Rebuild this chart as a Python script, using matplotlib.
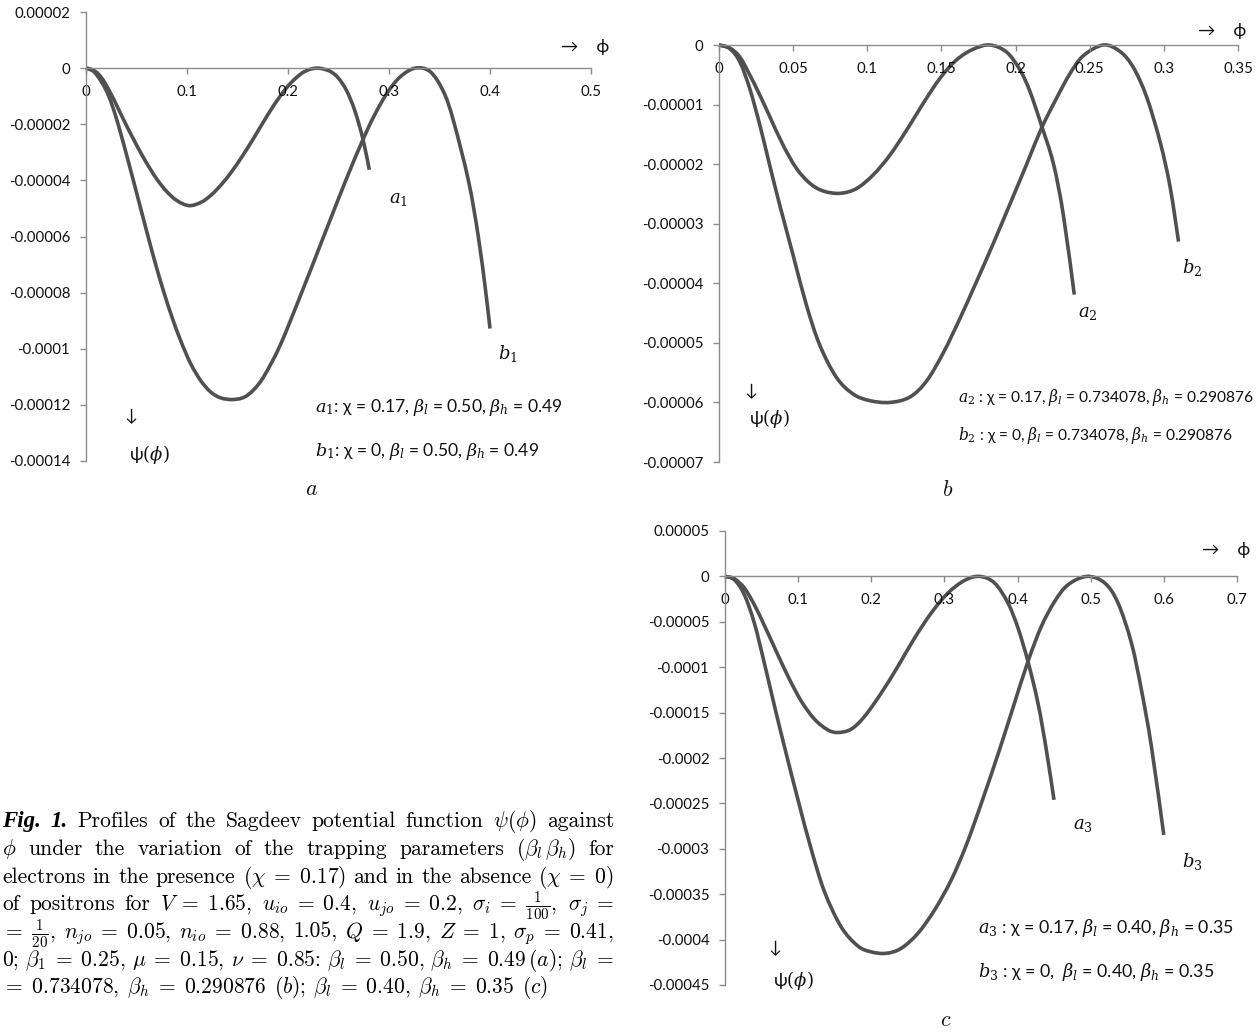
#!/usr/bin/env python3
"""
Sagdeev potential profiles psi(phi), three parameter sets (a, b, c).
Values read off the original figure; psi in units of 1e-5.
"""

import numpy as np
import matplotlib
matplotlib.use('Agg')
import matplotlib.pyplot as plt
from matplotlib.path import Path
from matplotlib.patches import PathPatch

W, H = 1258, 1032
LINE = '#505050'
AXIS = '#8c8c8c'

plt.rcParams['font.family'] = ['Lato', 'DejaVu Sans']
plt.rcParams['mathtext.fontset'] = 'dejavuserif'

# ---- panel a ----
a1_phi = [0, 0.006, 0.012, 0.018, 0.025, 0.032, 0.039, 0.047, 0.055, 0.063,
          0.071, 0.080, 0.090, 0.102, 0.114, 0.124, 0.134, 0.144, 0.154,
          0.166, 0.180, 0.193, 0.203, 0.213, 0.221, 0.229, 0.236, 0.243,
          0.250, 0.258, 0.266, 0.274, 0.2805]
a1_psi = [0, -0.05, -0.20, -0.48, -0.94, -1.45, -1.97, -2.53, -3.07, -3.56,
          -4.00, -4.40, -4.72, -4.90, -4.78, -4.52, -4.15, -3.70, -3.18,
          -2.50, -1.66, -0.96, -0.52, -0.20, -0.05, 0.0, -0.04, -0.14,
          -0.36, -0.80, -1.50, -2.50, -3.62]
b1_phi = [0, 0.0079, 0.0162, 0.0228, 0.0294, 0.0360, 0.0426, 0.0492, 0.0558,
          0.0624, 0.0690, 0.0772, 0.0855, 0.0937, 0.1036, 0.1135, 0.1234,
          0.1333, 0.1449, 0.1564, 0.1663, 0.1762, 0.1922, 0.2134, 0.2352,
          0.2570, 0.2732, 0.2847, 0.2979, 0.3111, 0.3260, 0.3409, 0.3541,
          0.3640, 0.3789, 0.3884, 0.3957, 0.4000]
b1_psi = [0, -0.13, -0.54, -1.02, -1.71, -2.54, -3.42, -4.32, -5.23, -6.13,
          -7.00, -8.00, -8.91, -9.71, -10.53, -11.13, -11.54, -11.75, -11.81,
          -11.73, -11.45, -10.98, -9.88, -8.01, -6.01, -4.02, -2.63, -1.74,
          -0.90, -0.31, 0.0, -0.13, -0.85, -1.90, -4.05, -6.00, -7.95, -9.28]
a_xticks = [0, 0.1, 0.2, 0.3, 0.4, 0.5]
a_xlabels = ['0', '0.1', '0.2', '0.3', '0.4', '0.5']
a_yticks = [2, 0, -2, -4, -6, -8, -10, -12, -14]
a_ylabels = ['0.00002', '0', '-0.00002', '-0.00004', '-0.00006', '-0.00008',
             '-0.0001', '-0.00012', '-0.00014']

# ---- panel b ----
a2_phi = [0, 0.0072, 0.0140, 0.0207, 0.0275, 0.0342, 0.0432, 0.0522, 0.0612,
          0.0702, 0.0815, 0.0927, 0.1040, 0.1152, 0.1265, 0.1377, 0.1490,
          0.1602, 0.1715, 0.1827, 0.1940, 0.2030, 0.2097, 0.2176, 0.2255,
          0.2322, 0.2396]
a2_psi = [0, -0.05, -0.20, -0.50, -0.84, -1.20, -1.68, -2.07, -2.32, -2.45,
          -2.49, -2.41, -2.18, -1.85, -1.43, -0.98, -0.56, -0.25, -0.07, 0.0,
          -0.12, -0.42, -0.78, -1.36, -1.99, -2.85, -4.19]
b2_phi = [0, 0.0072, 0.0140, 0.0207, 0.0275, 0.0342, 0.0410, 0.0500, 0.0590,
          0.0680, 0.0792, 0.0905, 0.1017, 0.1152, 0.1287, 0.1400, 0.1512,
          0.1625, 0.1737, 0.1850, 0.1962, 0.2075, 0.2176, 0.2277, 0.2367,
          0.2457, 0.2592, 0.2705, 0.2795, 0.2885, 0.2975, 0.3042, 0.3099]
b2_psi = [0, -0.06, -0.28, -0.73, -1.34, -2.02, -2.69, -3.53, -4.37, -5.04,
          -5.58, -5.86, -5.97, -6.00, -5.91, -5.64, -5.17, -4.59, -3.97, -3.33,
          -2.67, -2.00, -1.39, -0.89, -0.48, -0.18, 0.0, -0.11, -0.38, -0.88,
          -1.63, -2.38, -3.30]
b_xticks = [0, 0.05, 0.1, 0.15, 0.2, 0.25, 0.3, 0.35]
b_xlabels = ['0', '0.05', '0.1', '0.15', '0.2', '0.25', '0.3', '0.35']
b_yticks = [0, -1, -2, -3, -4, -5, -6, -7]
b_ylabels = ['0', '-0.00001', '-0.00002', '-0.00003', '-0.00004', '-0.00005',
             '-0.00006', '-0.00007']

# ---- panel c ----
a3_phi = [0, 0.0128, 0.0265, 0.0401, 0.0538, 0.0675, 0.0858, 0.1040, 0.1223,
          0.1405, 0.1542, 0.1724, 0.1907, 0.2135, 0.2363, 0.2591, 0.2819,
          0.3047, 0.3276, 0.3481, 0.3686, 0.3869, 0.4006, 0.4142, 0.4279,
          0.4393, 0.4498]
a3_psi = [0, -0.26, -1.29, -3.12, -5.40, -7.80, -10.95, -13.70, -15.72,
          -16.90, -17.19, -16.83, -15.43, -12.86, -9.92, -6.80, -4.04, -1.84,
          -0.44, 0.0, -0.73, -2.94, -5.69, -9.37, -13.96, -19.10, -24.61]
b3_phi = [0, 0.0128, 0.0265, 0.0401, 0.0538, 0.0698, 0.0858, 0.1017, 0.1177,
          0.1359, 0.1588, 0.1816, 0.1998, 0.2203, 0.2409, 0.2637, 0.2865,
          0.3093, 0.3298, 0.3504, 0.3732, 0.3914, 0.4142, 0.4325, 0.4507,
          0.4690, 0.4950, 0.5192, 0.5374, 0.5557, 0.5693, 0.5830, 0.5999]
b3_psi = [0, -0.37, -2.02, -5.14, -9.55, -15.00, -20.20, -25.20, -30.00,
          -34.70, -38.60, -40.70, -41.35, -41.51, -40.96, -39.31, -36.74,
          -33.43, -29.60, -25.00, -19.60, -15.06, -9.37, -5.51, -2.76, -0.92,
          0.0, -0.73, -2.94, -7.35, -12.49, -18.74, -28.47]
c_xticks = [0, 0.1, 0.2, 0.3, 0.4, 0.5, 0.6, 0.7]
c_xlabels = ['0', '0.1', '0.2', '0.3', '0.4', '0.5', '0.6', '0.7']
c_yticks = [5, 0, -5, -10, -15, -20, -25, -30, -35, -40, -45]
c_ylabels = ['0.00005', '0', '-0.00005', '-0.0001', '-0.00015', '-0.0002',
             '-0.00025', '-0.0003', '-0.00035', '-0.0004', '-0.00045']

# caption; words are split on plain spaces, so math pieces carry no spaces
E = r'\;=\;'
caption_lines = [
    r"Profiles of the Sagdeev potential function $\psi(\phi)$ against",
    r"$\phi$ under the variation of the trapping parameters "
    r"$(\beta_l\,\beta_h)$ for",
    r"electrons in the presence $(\chi" + E + r"0.17)$ and in the absence "
    r"$(\chi" + E + r"0)$",
    r"of positrons for $V" + E + r"1.65$, $u_{io}" + E + r"0.4$, $u_{jo}" + E
    + r"0.2$, $\sigma_i" + E + r"\frac{1}{100}$, $\sigma_j\;=$",
    r"$=\;\frac{1}{20}$, $n_{jo}" + E + r"0.05$, $n_{io}" + E + r"0.88$, "
    r"1.05, $Q" + E + r"1.9$, $Z" + E + r"1$, $\sigma_p" + E + r"0.41$,",
    r"0; $\beta_1" + E + r"0.25$, $\mu" + E + r"0.15$, $\nu" + E + r"0.85$: "
    r"$\beta_l" + E + r"0.50$, $\beta_h" + E + r"0.49\,(a)$; $\beta_l\;=$",
    r"$=\;0.734078$, $\beta_h" + E + r"0.290876$ $(b)$; $\beta_l" + E
    + r"0.40$, $\beta_h" + E + r"0.35$ $(c)$",
]
caption_base = [827, 855, 883, 910, 938, 966, 993]


def px(x, y):
    return x / W, 1 - y / H


def make_axes(fig, left, top, right, bottom):
    return fig.add_axes([left / W, 1 - bottom / H,
                         (right - left) / W, (bottom - top) / H])


def style_axes(ax, xticks, xlabels, yticks, ylabels, xmax, ymin, ymax):
    ax.set_facecolor('none')
    ax.set_xlim(0, xmax)
    ax.set_ylim(ymin, ymax)
    for s in ['top', 'right']:
        ax.spines[s].set_visible(False)
    ax.spines['bottom'].set_position(('data', 0))
    for s in ['left', 'bottom']:
        ax.spines[s].set_color(AXIS)
        ax.spines[s].set_linewidth(1.0)
    ax.set_xticks(xticks, xlabels)
    ax.set_yticks(yticks, ylabels)
    ax.tick_params(axis='both', direction='out', color=AXIS, length=4.3,
                   width=1.0, labelsize=10.8, labelcolor='#111111')
    ax.tick_params(axis='y', pad=7)
    ax.tick_params(axis='x', pad=8)


def smooth_path(x, y):
    """Smoothed line through the points (Catmull-Rom as cubic Beziers)."""
    pts = np.column_stack([x, y]).astype(float)
    n = len(pts)
    verts = [pts[0]]
    codes = [Path.MOVETO]
    for i in range(n - 1):
        p0 = pts[i - 1] if i > 0 else pts[i]
        p1, p2 = pts[i], pts[i + 1]
        p3 = pts[i + 2] if i + 2 < n else pts[i + 1]
        verts += [p1 + (p2 - p0) / 6, p2 - (p3 - p1) / 6, p2]
        codes += [Path.CURVE4] * 3
    return Path(verts, codes)


def draw_curves(ax, curves):
    for phi, psi in curves:
        ax.add_patch(PathPatch(smooth_path(phi, psi), facecolor='none',
                               edgecolor=LINE, lw=2.6, capstyle='butt',
                               clip_on=False))


def label(fig, x, y, s, size=12, **kw):
    fig.text(*px(x, y), s, ha='center', va='center', fontsize=size,
             color='#111111', **kw)


fig = plt.figure(figsize=(W / 100, H / 100), dpi=100)

# panel a
ax = make_axes(fig, 86, 12, 591, 461)
style_axes(ax, a_xticks, a_xlabels, a_yticks, a_ylabels, 0.5, -14, 2)
draw_curves(ax, [(a1_phi, a1_psi), (b1_phi, b1_psi)])

# panel b
ax = make_axes(fig, 719, 45, 1238, 462)
style_axes(ax, b_xticks, b_xlabels, b_yticks, b_ylabels, 0.35, -7, 0)
draw_curves(ax, [(a2_phi, a2_psi), (b2_phi, b2_psi)])

# panel c
ax = make_axes(fig, 725, 531, 1237, 985)
style_axes(ax, c_xticks, c_xlabels, c_yticks, c_ylabels, 0.7, -45, 5)
draw_curves(ax, [(a3_phi, a3_psi), (b3_phi, b3_psi)])

# axis symbols and curve names
for (ax_x, ax_y, dn_x, dn_y, ps_y) in [(585, 47, 131, 416, 454),
                                       (1222, 31, 751, 391, 418),
                                       (1226, 550, 775, 948, 980)]:
    label(fig, ax_x, ax_y, '→    ϕ', size=12.5)
    label(fig, dn_x, dn_y, '↓', size=12.5)
    label(fig, dn_x + 18, ps_y, r'ψ$(\phi)$', size=13)

for x, y, s in [(398, 199, r'$a_1$'), (508, 354, r'$b_1$'),
                (1088, 313, r'$a_2$'), (1192, 267, r'$b_2$'),
                (1083, 825, r'$a_3$'), (1192, 862, r'$b_3$')]:
    label(fig, x, y, s, size=13)

notes = [
    (315, 408, 12.6, r'$a_1$: χ = 0.17, $\beta_l$ = 0.50, $\beta_h$ = 0.49'),
    (315, 452, 12.6, r'$b_1$: χ = 0, $\beta_l$ = 0.50, $\beta_h$ = 0.49'),
    (958, 397, 11.2,
     r'$a_2$ : χ = 0.17, $\beta_l$ = 0.734078, $\beta_h$ = 0.290876'),
    (958, 436, 11.2,
     r'$b_2$ : χ = 0, $\beta_l$ = 0.734078, $\beta_h$ = 0.290876'),
    (978, 928, 12.8, r'$a_3$ : χ = 0.17, $\beta_l$ = 0.40, $\beta_h$ = 0.35'),
    (978, 972, 12.8, r'$b_3$ : χ = 0,  $\beta_l$ = 0.40, $\beta_h$ = 0.35'),
]
for x, y, size, s in notes:
    fig.text(*px(x, y), s, ha='left', va='center', fontsize=size,
             color='#111111')

for x, y, s in [(312, 489, r'$a$'), (948, 490, r'$b$'), (946, 1020, r'$c$')]:
    label(fig, x, y, s, size=16, math_fontfamily='cm')

# caption, justified word by word
renderer = fig.canvas.get_renderer()
cap_kw = dict(fontfamily='cmr10', math_fontfamily='cm', fontsize=15.5,
              color='black', va='baseline', ha='left')
x_left, x_right = 2, 614
for i, (line, yb) in enumerate(zip(caption_lines, caption_base)):
    arts = []
    if i == 0:
        for w in ['Fig.', '1.']:
            arts.append(fig.text(0, 1 - yb / H, w, fontfamily='Liberation Serif',
                                 fontweight='bold', fontstyle='italic',
                                 fontsize=16.5, color='black', va='baseline',
                                 ha='left'))
    for w in line.split(' '):
        arts.append(fig.text(0, 1 - yb / H, w, **cap_kw))
    widths = [a.get_window_extent(renderer).width for a in arts]
    if i < len(caption_lines) - 1:
        gap = (x_right - x_left - sum(widths)) / (len(arts) - 1)
    else:
        gap = 7.5
    x = x_left
    for a, w in zip(arts, widths):
        a.set_x(x / W)
        x += w + gap

fig.savefig('out.png', dpi=100)
